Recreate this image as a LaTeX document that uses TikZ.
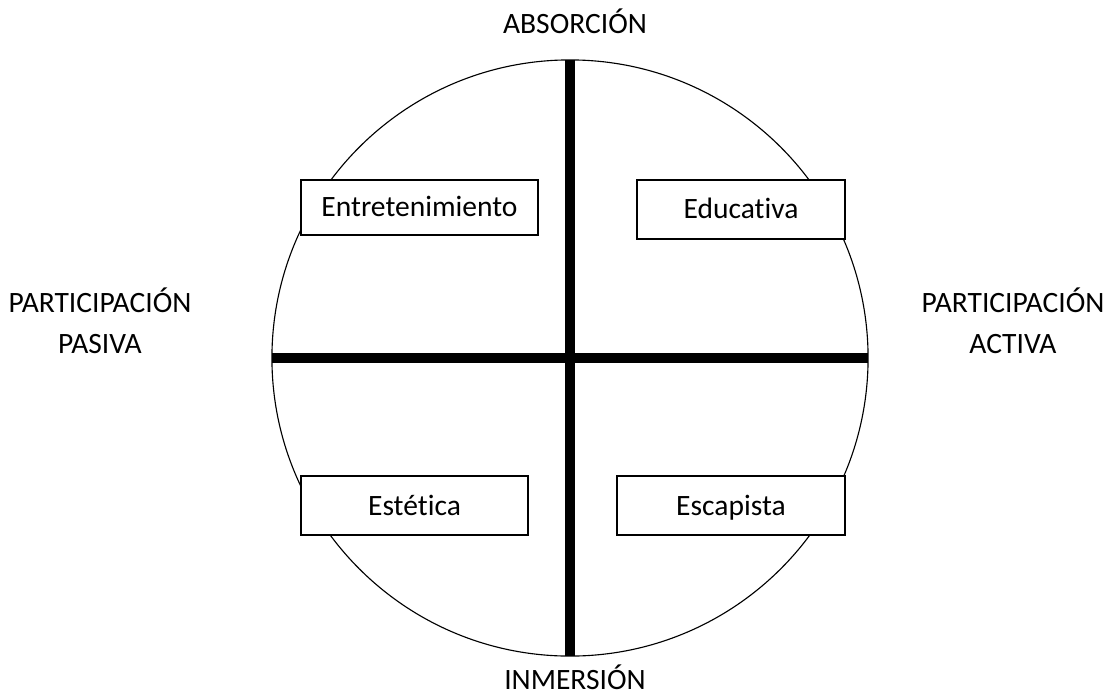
\documentclass[tikz,border=0pt]{standalone}
\usepackage{fontspec}
\setmainfont{Carlito}[Ligatures=CommonOff]
\tikzset{
  rim line/.style={line width=0.8pt, black},
  axis bar/.style={line width=7pt, black},
  type box/.style={draw, line width=1pt, fill=white, inner sep=0pt, text height=13.5pt, text depth=0pt, font=\fontsize{21}{24}\selectfont},
  pole label/.style={align=center, anchor=base, inner sep=0pt, font=\fontsize{21}{28.5}\selectfont},
}

\begin{document}
\begin{tikzpicture}[x=0.025cm, y=-0.025cm]
  \useasboundingbox (0,0) rectangle (1115,697);
  % outer circle and the two axes
  \node[circle, draw, rim line, minimum size=14.9cm, inner sep=0pt, outer sep=0pt] (rim) at (570,358) {};
  \draw[axis bar] (rim.north) -- (rim.south);
  \draw[axis bar] (rim.west) -- (rim.east);
  % the four types
  \node[type box, minimum width=5.925cm, minimum height=1.375cm] (ent) at (419.5,207.5) {Entretenimiento};
  \node[type box, minimum width=5.2cm, minimum height=1.475cm] (edu) at (741,209.5) {Educativa};
  \node[type box, minimum width=5.675cm, minimum height=1.475cm] (est) at (414.5,505.5) {Estética};
  \node[type box, minimum width=5.7cm, minimum height=1.475cm] (esc) at (731,505.5) {Escapista};
  % poles
  \node[pole label] (abs) at (575,33) {ABSORCIÓN};
  \node[pole label] (inm) at (575,689) {INMERSIÓN};
  \node[pole label] (pas) at (100,353) {PARTICIPACIÓN\\PASIVA};
  \node[pole label] (act) at (1013,353) {PARTICIPACIÓN\\ACTIVA};
\end{tikzpicture}
\end{document}
